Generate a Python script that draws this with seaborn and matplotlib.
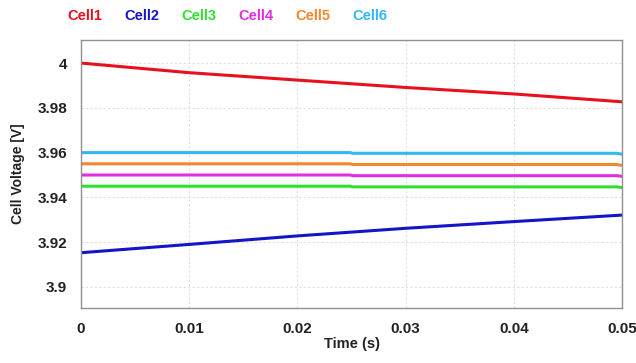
#!/usr/bin/env python3
"""Cell voltage traces of six series cells over a 50 ms window."""

import numpy as np
import pandas as pd
import matplotlib
matplotlib.use("Agg")
import matplotlib.pyplot as plt
from matplotlib.ticker import FuncFormatter
import seaborn as sns

t_slope = [0.0, 0.01, 0.02, 0.03, 0.04, 0.05]
cell1 = [4.0000, 3.9957, 3.9924, 3.9891, 3.9862, 3.9827]
cell2 = [3.9153, 3.9190, 3.9228, 3.9262, 3.9292, 3.9321]

t_flat = [0.0, 0.0249, 0.0251, 0.0495, 0.05]
cell3 = [3.9450, 3.9450, 3.9447, 3.9447, 3.9444]
cell4 = [3.9500, 3.9500, 3.9497, 3.9497, 3.9494]
cell5 = [3.9550, 3.9550, 3.9547, 3.9547, 3.9543]
cell6 = [3.9600, 3.9600, 3.9597, 3.9597, 3.9593]

names = ["Cell1", "Cell2", "Cell3", "Cell4", "Cell5", "Cell6"]
colors = ["#e8101c", "#1414c8", "#2ee02e", "#e02ee0", "#f5862a", "#30b8f0"]

x_ticks = [0, 0.01, 0.02, 0.03, 0.04, 0.05]
y_ticks = [3.9, 3.92, 3.94, 3.96, 3.98, 4.0]

frames = []
for name, t, v in [("Cell1", t_slope, cell1), ("Cell2", t_slope, cell2),
                   ("Cell3", t_flat, cell3), ("Cell4", t_flat, cell4),
                   ("Cell5", t_flat, cell5), ("Cell6", t_flat, cell6)]:
    frames.append(pd.DataFrame({"time": t, "voltage": v, "cell": name}))
df = pd.concat(frames, ignore_index=True)

sns.set_style("white")
plt.rcParams["font.family"] = ["Liberation Sans", "DejaVu Sans"]

fig = plt.figure(figsize=(6.36, 3.63), dpi=100)
ax = fig.add_axes([0.1274, 0.1515, 0.8506, 0.7383])

sns.lineplot(data=df, x="time", y="voltage", hue="cell", hue_order=names,
             palette=colors, linewidth=2.2, ax=ax, legend=False)

ax.set_xlim(0, 0.05)
ax.set_ylim(3.8906, 4.0103)
ax.set_xticks(x_ticks)
ax.set_yticks(y_ticks)
fmt = FuncFormatter(lambda v, _: f"{v:g}")
ax.xaxis.set_major_formatter(fmt)
ax.yaxis.set_major_formatter(fmt)
ax.tick_params(axis="both", length=0, labelsize=11, pad=10)
for lbl in ax.get_xticklabels() + ax.get_yticklabels():
    lbl.set_fontweight("bold")
    lbl.set_color("#222222")

ax.grid(True, color="#dedede", linestyle=(0, (2, 2)), linewidth=0.8)
for s in ax.spines.values():
    s.set_color("#909090")
    s.set_linewidth(1.0)

ax.set_xlabel("Time (s)", fontsize=10.5, fontweight="bold", color="#222222", labelpad=1)
ax.set_ylabel("Cell Voltage [V]", fontsize=10, fontweight="bold", color="#222222", labelpad=9)

# coloured text labels along the top act as the legend
x0 = 67 / 636
step = 57 / 636
for i, (name, c) in enumerate(zip(names, colors)):
    fig.text(x0 + i * step, 1 - 16 / 363, name, color=c, fontsize=10.5,
             fontweight="bold", ha="left", va="center")

fig.savefig("out.png", dpi=100)
